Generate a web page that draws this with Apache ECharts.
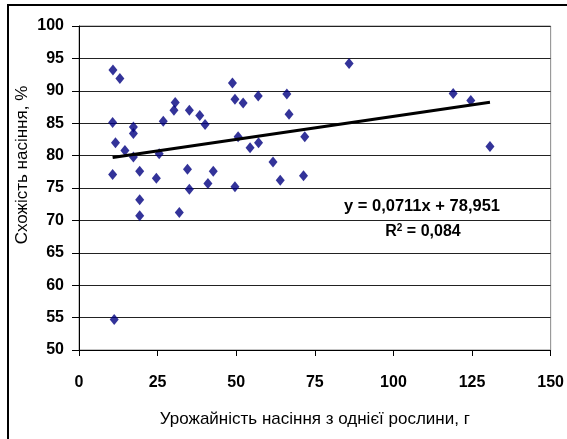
<!DOCTYPE html>
<html>
<head>
<meta charset="utf-8">
<script src="https://cdn.jsdelivr.net/npm/echarts@6/dist/echarts.min.js"></script>
<style>html,body{margin:0;padding:0;background:#fff;}#c{width:567px;height:439px;}</style>
</head>
<body>
<div id="c"></div>
<script>
// Yield per plant, g
const xValues = [10.8, 13.0, 10.7, 11.6, 14.6, 17.3, 17.3, 17.3, 10.7, 19.3, 24.6, 25.5, 26.8, 30.2, 30.6, 35.1, 34.5, 35.1, 38.4, 40.1, 41.0, 42.7, 48.8, 49.6, 52.2, 50.6, 49.6, 54.4, 57.0, 57.1, 66.1, 66.8, 85.9, 71.8, 61.7, 64.0, 71.4, 19.3, 19.3, 31.9, 11.2, 119.0, 124.6, 130.7];
// Germination, %
const yValues = [93.2, 91.9, 85.1, 82.0, 80.8, 84.4, 83.4, 79.8, 77.1, 77.6, 76.5, 80.3, 85.3, 87.0, 88.2, 87.0, 77.9, 74.8, 86.2, 84.8, 75.7, 77.6, 91.2, 88.7, 88.1, 82.9, 75.2, 81.2, 89.2, 82.0, 89.5, 86.4, 94.2, 82.9, 79.0, 76.2, 76.9, 73.2, 70.7, 71.2, 54.7, 89.6, 88.5, 81.4];
const slope = 0.0711;
const intercept = 78.951;
const rSquared = '0,084';
const xTicks = [0, 25, 50, 75, 100, 125, 150];
const yTicks = [50, 55, 60, 65, 70, 75, 80, 85, 90, 95, 100];
const xTitle = 'Урожайність насіння з однієї рослини, г';
const yTitle = 'Схожість насіння, %';

const points = xValues.map((x, i) => [x, yValues[i]]);
const xMin = Math.min.apply(null, xValues), xMax = Math.max.apply(null, xValues);
const trend = [[xMin, slope * xMin + intercept], [xMax, slope * xMax + intercept]];
const fmt = v => String(v).replace('.', ',');

// detect narrow font
const cv = document.createElement('canvas').getContext('2d');
cv.font = 'bold 20px "Liberation Sans Narrow", monospace';
const wNarrow = cv.measureText('0123456789').width;
cv.font = 'bold 20px monospace';
const wMono = cv.measureText('0123456789').width;
const hasNarrow = Math.abs(wNarrow - wMono) > 1;

const font = 'Liberation Sans, Arial, sans-serif';
const xLabelFont = hasNarrow ? '"Liberation Sans Narrow", Liberation Sans, sans-serif' : font;
const xLabelSize = hasNarrow ? 20 : 16;

const chart = echarts.init(document.getElementById('c'), null, {renderer: 'canvas'});
chart.setOption({
  animation: false,
  backgroundColor: '#fff',
  grid: {left: 79, right: 14, top: 26, bottom: 89, show: true, borderColor: '#8a8a8a', borderWidth: 1, backgroundColor: 'transparent'},
  xAxis: {
    type: 'value', min: xTicks[0], max: xTicks[xTicks.length - 1], interval: 25,
    axisLine: {lineStyle: {color: '#000', width: 1}},
    axisTick: {show: true, length: 6, lineStyle: {color: '#000'}},
    axisLabel: {margin: hasNarrow ? 23 : 25, color: '#000', fontFamily: xLabelFont, fontWeight: 'bold', fontSize: xLabelSize},
    splitLine: {show: false},
    name: xTitle, nameLocation: 'middle', nameGap: 61,
    nameTextStyle: {color: '#000', fontFamily: font, fontSize: 17}
  },
  yAxis: {
    type: 'value', min: yTicks[0], max: yTicks[yTicks.length - 1], interval: 5,
    axisLine: {show: true, lineStyle: {color: '#000', width: 1}},
    axisTick: {show: true, length: 7, lineStyle: {color: '#000'}},
    axisLabel: {margin: 15, color: '#000', fontFamily: font, fontWeight: 'bold', fontSize: 16},
    splitLine: {show: true, lineStyle: {color: '#222', width: 1}}
  },
  graphic: [
    {type: 'rect', shape: {x: 8, y: 5, width: 620, height: 500}, style: {fill: 'none', stroke: '#000', lineWidth: 2}, silent: true, z: 100},
    {type: 'text', x: 22, y: 165, rotation: Math.PI / 2, style: {text: yTitle, fill: '#000', font: '17px ' + font, textAlign: 'center', textVerticalAlign: 'middle'}},
    {type: 'text', x: 422, y: 206, style: {text: 'y = ' + fmt(slope) + 'x + ' + fmt(intercept), fill: '#000', font: 'bold 16.5px ' + font, textAlign: 'center', textVerticalAlign: 'middle'}},
    {type: 'text', x: 423, y: 232, style: {
      text: '{b|R}{s|2}{b| = ' + rSquared + '}', textAlign: 'center', textVerticalAlign: 'middle',
      rich: {
        b: {fontFamily: font, fontWeight: 'bold', fontSize: 16, fill: '#000', color: '#000'},
        s: {fontFamily: font, fontWeight: 'bold', fontSize: 10, fill: '#000', color: '#000', verticalAlign: 'top', padding: [0, 0, 8, 0]}
      }
    }}
  ],
  series: [
    {type: 'scatter', data: points, symbol: 'diamond', symbolSize: [9, 11], itemStyle: {color: '#000080'}, z: 3},
    {type: 'line', data: trend, symbol: 'none', lineStyle: {color: '#000', width: 3}, z: 4}
  ]
});
</script>
</body>
</html>
